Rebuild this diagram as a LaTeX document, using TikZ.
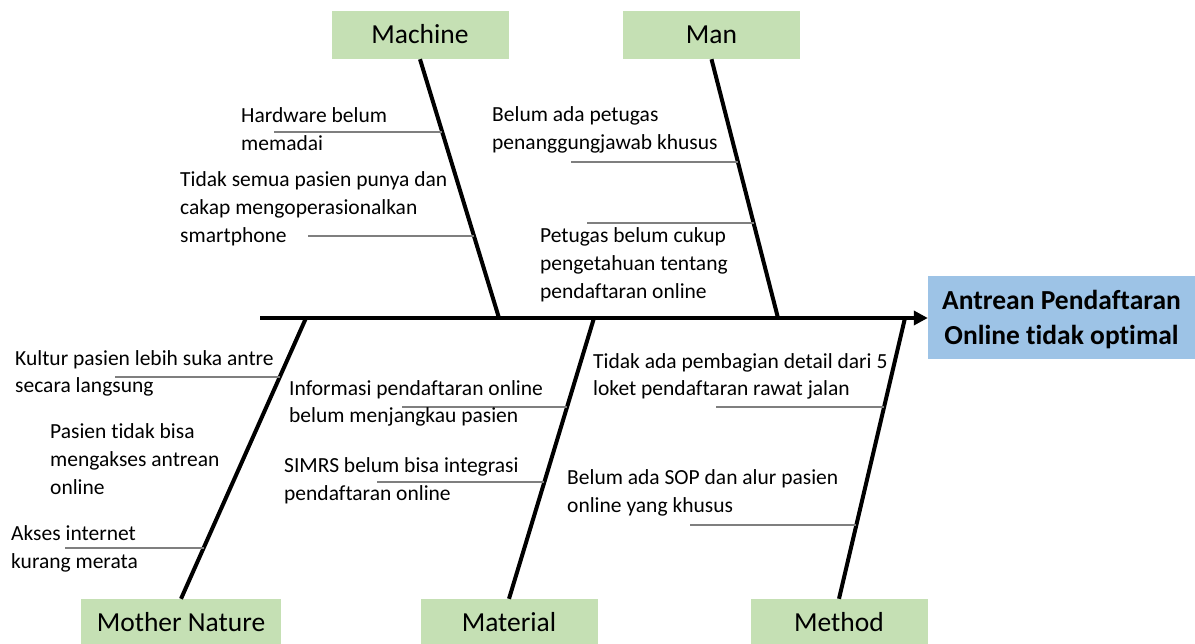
\documentclass[tikz,border=0pt]{standalone}
\usepackage{fontspec}
\setmainfont{Carlito}[Ligatures=NoCommon]
\usetikzlibrary{arrows.meta,calc}
\definecolor{catgreen}{HTML}{C5E0B4}
\definecolor{effblue}{HTML}{9DC3E6}
\definecolor{subgray}{HTML}{7F7F7F}
\begin{document}
\begin{tikzpicture}[x=1pt,y=-1pt,
  catbox/.style={fill=catgreen, minimum width=177pt, minimum height=48pt, inner sep=0pt,
    font=\fontsize{27.5}{33}\selectfont, text height=17.7pt, text depth=0pt},
  effbox/.style={fill=effblue, minimum width=267pt, minimum height=83pt, inner sep=0pt,
    align=center, font=\bfseries\fontsize{27.5}{35}\selectfont},
  cause/.style={anchor=base west, align=left, inner sep=0pt, font=\fontsize{21.5}{28}\selectfont},
  spine/.style={line width=4.5pt, -{Triangle[length=14pt,width=14pt]}},
  bone/.style={line width=4pt},
  twig/.style={line width=1.5pt, subgray}]
\useasboundingbox (0,0) rectangle (1195,644);

% category and effect boxes
\node[catbox] (machine) at (420,35) {Machine};
\node[catbox] (man) at (711.5,35) {Man};
\node[catbox, minimum width=200pt] (nature) at (181,623) {Mother Nature};
\node[catbox] (material) at (509,623) {Material};
\node[catbox] (method) at (839,623) {Method};
\node[effbox, text depth=0pt] (effect) at (1061.5,317.5) {Antrean Pendaftaran\\Online tidak optimal};

% spine
\coordinate (tail) at (260,318);
\draw[spine] (tail) -- (tail -| effect.west);

% bones
\coordinate (jMachine) at (499,318);
\coordinate (jMan) at (778,318);
\coordinate (jNature) at (306,318);
\coordinate (jMaterial) at (594,318);
\coordinate (jMethod) at (905,318);
\draw[bone] (machine.south) -- (jMachine);
\draw[bone] (man.south) -- (jMan);
\draw[bone] (jNature) -- (nature.north);
\draw[bone] (jMaterial) -- (material.north);
\draw[bone] (jMethod) -- (method.north);

% points on bones
\coordinate (pM1) at ($(machine.south)!0.282!(jMachine)$);
\coordinate (pM2) at ($(machine.south)!0.683!(jMachine)$);
\coordinate (pN1) at ($(man.south)!0.398!(jMan)$);
\coordinate (pN2) at ($(man.south)!0.633!(jMan)$);
\coordinate (pE1) at ($(jNature)!0.21!(nature.north)$);
\coordinate (pE2) at ($(jNature)!0.819!(nature.north)$);
\coordinate (pT1) at ($(jMaterial)!0.317!(material.north)$);
\coordinate (pT2) at ($(jMaterial)!0.584!(material.north)$);
\coordinate (pD1) at ($(jMethod)!0.317!(method.north)$);
\coordinate (pD2) at ($(jMethod)!0.737!(method.north)$);

% free ends of twigs (x only matters)
\coordinate (eM1) at (274,0);
\coordinate (eM2) at (308,0);
\coordinate (eN1) at (571,0);
\coordinate (eN2) at (587,0);
\coordinate (eE1) at (115,0);
\coordinate (eE2) at (65,0);
\coordinate (eT1) at (402,0);
\coordinate (eT2) at (377,0);
\coordinate (eD1) at (716,0);
\coordinate (eD2) at (690,0);

\draw[twig] (pM1 -| eM1) -- (pM1);
\draw[twig] (pM2 -| eM2) -- (pM2);
\draw[twig] (pN1 -| eN1) -- (pN1);
\draw[twig] (pN2 -| eN2) -- (pN2);
\draw[twig] (pE1 -| eE1) -- (pE1);
\draw[twig] (pE2 -| eE2) -- (pE2);
\draw[twig] (pT1 -| eT1) -- (pT1);
\draw[twig] (pT2 -| eT2) -- (pT2);
\draw[twig] (pD1 -| eD1) -- (pD1);
\draw[twig] (pD2 -| eD2) -- (pD2);

% cause texts (anchored at the baseline of the last line)
\node[cause] (tM1) at (241,151) {Hardware belum\\memadai};
\node[cause] (tM2) at (180,243) {Tidak semua pasien punya dan\\cakap mengoperasionalkan\\smartphone};
\node[cause] (tN1) at (492,150) {Belum ada petugas\\penanggungjawab khusus};
\node[cause] (tN2) at (540,299) {Petugas belum cukup\\pengetahuan tentang\\pendaftaran online};
\node[cause] (tE1) at (15,393) {Kultur pasien lebih suka antre\\secara langsung};
\node[cause] (tE2) at (50,494) {Pasien tidak bisa\\mengakses antrean\\online};
\node[cause] (tE3) at (11,568) {Akses internet\\kurang merata};
\node[cause] (tT1) at (289,423) {Informasi pendaftaran online\\belum menjangkau pasien};
\node[cause] (tT2) at (284,500) {SIMRS belum bisa integrasi\\pendaftaran online};
\node[cause] (tD1) at (593,396) {Tidak ada pembagian detail dari 5\\loket pendaftaran rawat jalan};
\node[cause] (tD2) at (567,512) {Belum ada SOP dan alur pasien\\online yang khusus};
\end{tikzpicture}
\end{document}
